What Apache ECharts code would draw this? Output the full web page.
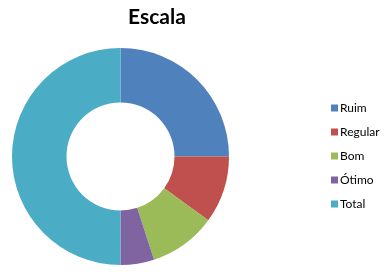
<!DOCTYPE html>
<html>
<head>
<meta charset="utf-8">
<script src="https://cdn.jsdelivr.net/npm/echarts@6/dist/echarts.min.js"></script>
<style>
html,body{margin:0;padding:0;background:#fff;}
#chart{width:388px;height:272px;}
</style>
</head>
<body>
<div id="chart"></div>
<script>
const categories = ["Ruim", "Regular", "Bom", "Ótimo", "Total"];
const values = [25, 10, 10, 5, 50];
const colors = ["#4F81BD", "#C0504D", "#9BBB59", "#8064A2", "#4BACC6"];
const titleText = "Escala";

const chart = echarts.init(document.getElementById('chart'));
chart.setOption({
  animation: false,
  title: {
    text: titleText,
    left: 157, top: 7,
    textAlign: 'center',
    padding: 0,
    textStyle: { fontFamily: 'Lato', fontWeight: 'bold', fontSize: 21, color: '#000' }
  },
  legend: {
    orient: 'vertical',
    left: 331, top: 101,
    padding: 0,
    itemWidth: 7, itemHeight: 7, itemGap: 10,
    icon: 'rect',
    itemStyle: { borderWidth: 0 },
    textStyle: { fontFamily: 'Lato', fontSize: 12, lineHeight: 14, color: '#000', padding: [0,0,0,-3] },
    data: categories
  },
  color: colors,
  series: [{
    type: 'pie',
    center: [120.5, 156.5],
    radius: [54, 108.5],
    startAngle: 90,
    clockwise: true,
    label: { show: false },
    labelLine: { show: false },
    emphasis: { disabled: true },
    itemStyle: { borderWidth: 0 },
    data: categories.map((c, i) => ({ name: c, value: values[i] }))
  }]
});
</script>
</body>
</html>
